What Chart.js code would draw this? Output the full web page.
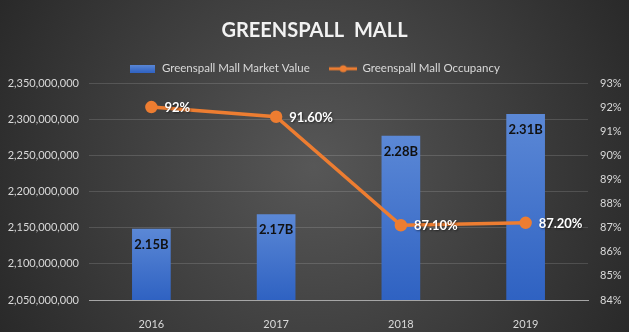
<!DOCTYPE html>
<html>
<head>
<meta charset="utf-8">
<script src="https://cdn.jsdelivr.net/npm/chart.js@4/dist/chart.umd.min.js"></script>
<style>
  html, body { margin: 0; padding: 0; background: #2a2a2a; }
  #wrap { width: 629px; height: 332px; }
</style>
</head>
<body>
<div id="wrap"><canvas id="c" width="629" height="332"></canvas></div>
<script>
// ---- data ----
const categories = ['2016', '2017', '2018', '2019'];
const marketValue = [2148600000, 2168600000, 2277000000, 2307000000];
const occupancy = [92, 91.6, 87.1, 87.2];
const occupancyLabels = ['92%', '91.60%', '87.10%', '87.20%'];
const seriesNames = ['Greenspall Mall Market Value', 'Greenspall Mall Occupancy'];
const chartTitle = 'GREENSPALL  MALL';
const leftAxis = { min: 2050000000, max: 2350000000, step: 50000000 };
const rightAxis = { min: 84, max: 93, step: 1 };

const FONT = 'Lato, "Open Sans", sans-serif';
const BLUE_TOP = '#5b88d6';
const BLUE_BOTTOM = '#2f62c2';
const ORANGE = '#ED7D31';

// legend icons
function makeBarIcon() {
  const c = document.createElement('canvas');
  c.width = 25; c.height = 8;
  const x = c.getContext('2d');
  const g = x.createLinearGradient(0, 0, 0, 8);
  g.addColorStop(0, BLUE_TOP); g.addColorStop(1, BLUE_BOTTOM);
  x.fillStyle = g; x.fillRect(0, 0, 25, 8);
  return c;
}
function makeLineIcon() {
  const c = document.createElement('canvas');
  c.width = 28; c.height = 10;
  const x = c.getContext('2d');
  x.strokeStyle = ORANGE; x.lineWidth = 3;
  x.beginPath(); x.moveTo(0, 5); x.lineTo(28, 5); x.stroke();
  x.fillStyle = ORANGE; x.beginPath(); x.arc(14, 5, 3.5, 0, Math.PI * 2); x.fill();
  return c;
}
const barIcon = makeBarIcon();
const lineIcon = makeLineIcon();

const bgPlugin = {
  id: 'bg',
  beforeDraw(chart) {
    const { ctx, width, height } = chart;
    ctx.save();
    const g = ctx.createRadialGradient(width / 2, height / 2, 0, width / 2, height / 2, 380);
    g.addColorStop(0, '#575757');
    g.addColorStop(1, '#262626');
    ctx.fillStyle = g;
    ctx.fillRect(0, 0, width, height);
    ctx.restore();
  }
};

const labelPlugin = {
  id: 'valueLabels',
  afterDatasetsDraw(chart) {
    const ctx = chart.ctx;
    ctx.save();
    const barMeta = chart.getDatasetMeta(0);
    ctx.font = 'bold 13px ' + FONT;
    ctx.fillStyle = '#111111';
    ctx.textAlign = 'center';
    ctx.textBaseline = 'middle';
    barMeta.data.forEach((el, i) => {
      const v = marketValue[i];
      ctx.fillText((v / 1e9).toFixed(2) + 'B', el.x, el.y + 16);
    });
    const lineMeta = chart.getDatasetMeta(1);
    ctx.fillStyle = '#ffffff';
    ctx.textAlign = 'left';
    ctx.shadowColor = 'rgba(0,0,0,0.5)';
    ctx.shadowBlur = 2;
    ctx.shadowOffsetX = 1;
    ctx.shadowOffsetY = 1;
    lineMeta.data.forEach((el, i) => {
      ctx.fillText(occupancyLabels[i], el.x + 13, el.y + 1);
    });
    ctx.restore();
  }
};

const chart = new Chart(document.getElementById('c'), {
  data: {
    labels: categories,
    datasets: [
      {
        type: 'bar',
        label: seriesNames[0],
        data: marketValue,
        yAxisID: 'y',
        order: 1,
        categoryPercentage: 1,
        barPercentage: 0.31,
        backgroundColor: (ctx) => {
          const chart = ctx.chart;
          const area = chart.chartArea;
          if (!area || ctx.type !== 'data' || !chart.scales.y) return '#4472C4';
          const top = chart.scales.y.getPixelForValue(ctx.raw);
          const g = chart.ctx.createLinearGradient(0, top, 0, area.bottom);
          g.addColorStop(0, BLUE_TOP);
          g.addColorStop(1, BLUE_BOTTOM);
          return g;
        }
      },
      {
        type: 'line',
        label: seriesNames[1],
        data: occupancy,
        yAxisID: 'y1',
        order: 0,
        borderColor: ORANGE,
        backgroundColor: ORANGE,
        borderWidth: 3.5,
        pointRadius: 4.5,
        pointBackgroundColor: ORANGE,
        pointBorderColor: ORANGE,
        tension: 0
      }
    ]
  },
  options: {
    responsive: false,
    animation: false,
    devicePixelRatio: 1,
    layout: { padding: 0 },
    plugins: {
      tooltip: { enabled: false },
      title: {
        display: true,
        text: chartTitle,
        color: '#f2f2f2',
        font: { family: FONT, size: 20, weight: 'bold' },
        padding: { top: 19, bottom: 0 }
      },
      legend: {
        display: true,
        maxHeight: 40,
        labels: {
          color: '#d9d9d9',
          font: { family: FONT, size: 11.5 },
          padding: 20,
          usePointStyle: true,
          pointStyleWidth: 27,
          generateLabels(chart) {
            const items = Chart.defaults.plugins.legend.labels.generateLabels(chart);
            items.sort((a, b) => a.datasetIndex - b.datasetIndex);
            items.forEach(it => {
              it.pointStyle = it.datasetIndex === 0 ? barIcon : lineIcon;
              it.fontColor = '#d9d9d9';
            });
            return items;
          }
        }
      }
    },
    scales: {
      x: {
        grid: { display: false },
        border: { display: true, color: '#a6a6a6', width: 1 },
        ticks: { color: '#d9d9d9', font: { family: FONT, size: 11 }, padding: 10 },
        afterFit(s) { s.height = 32; }
      },
      y: {
        position: 'left',
        min: leftAxis.min,
        max: leftAxis.max,
        grid: { color: 'rgba(255,255,255,0.14)', drawTicks: false },
        border: { display: false },
        ticks: {
          stepSize: leftAxis.step,
          color: '#d9d9d9',
          font: { family: FONT, size: 11 },
          padding: 10,
          callback: (v) => Number(v).toLocaleString('en-US')
        },
        afterFit(s) { s.width = 89; }
      },
      y1: {
        position: 'right',
        min: rightAxis.min,
        max: rightAxis.max,
        grid: { display: false, drawTicks: false },
        border: { display: false },
        ticks: {
          stepSize: rightAxis.step,
          color: '#d9d9d9',
          font: { family: FONT, size: 11 },
          padding: 12,
          callback: (v) => v + '%'
        },
        afterFit(s) { s.width = 41; }
      }
    }
  },
  plugins: [bgPlugin, labelPlugin]
});
</script>
</body>
</html>
